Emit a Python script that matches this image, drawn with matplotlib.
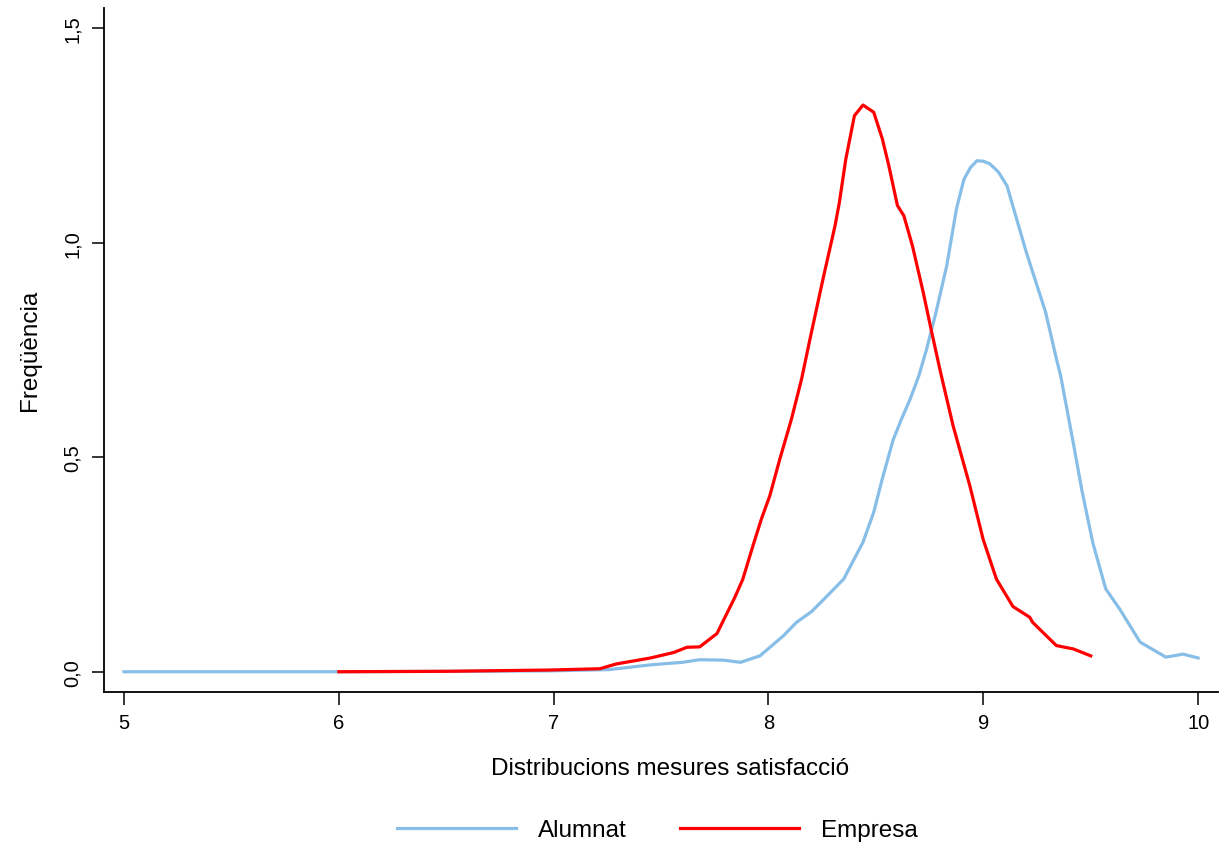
import matplotlib
matplotlib.use("Agg")
import matplotlib.pyplot as plt

# ---------------------------------------------------------------------------
# Data (kernel density of satisfaction scores)

alumnat_x = [5.0, 5.5, 6.0, 6.5, 6.98, 7.26, 7.45, 7.60, 7.68, 7.79, 7.87, 7.96,
             8.07, 8.13, 8.20, 8.26, 8.35, 8.44, 8.49, 8.53, 8.58, 8.62, 8.66,
             8.70, 8.735, 8.78, 8.83, 8.875, 8.91, 8.94, 8.97, 9.00, 9.03, 9.07,
             9.11, 9.20, 9.29, 9.34, 9.36, 9.42, 9.46, 9.51, 9.57, 9.635, 9.73,
             9.85, 9.93, 10.0]
alumnat_y = [0.0, 0.0, 0.0, 0.001, 0.002, 0.005, 0.016, 0.022, 0.028, 0.027, 0.022,
             0.037, 0.084, 0.115, 0.140, 0.170, 0.216, 0.302, 0.372, 0.450, 0.540,
             0.590, 0.636, 0.690, 0.750, 0.838, 0.947, 1.079, 1.148, 1.175, 1.191,
             1.190, 1.184, 1.165, 1.133, 0.978, 0.838, 0.730, 0.690, 0.530, 0.420,
             0.300, 0.193, 0.146, 0.069, 0.034, 0.041, 0.032]

empresa_x = [6.0, 6.5, 6.98, 7.215, 7.29, 7.45, 7.56, 7.62, 7.68, 7.76, 7.843, 7.88,
             7.928, 7.967, 8.006, 8.053, 8.107, 8.154, 8.193, 8.254, 8.31, 8.33,
             8.36, 8.40, 8.44, 8.49, 8.53, 8.56, 8.60, 8.63, 8.67, 8.72, 8.76, 8.80,
             8.859, 8.937, 8.999, 9.061, 9.138, 9.216, 9.23, 9.34, 9.42, 9.50]
empresa_y = [0.0, 0.001, 0.004, 0.007, 0.018, 0.032, 0.045, 0.057, 0.058, 0.089,
             0.173, 0.215, 0.294, 0.356, 0.410, 0.496, 0.589, 0.682, 0.775, 0.916,
             1.040, 1.094, 1.195, 1.296, 1.321, 1.304, 1.242, 1.180, 1.087, 1.063,
             0.993, 0.885, 0.791, 0.700, 0.574, 0.434, 0.309, 0.216, 0.152, 0.127,
             0.115, 0.061, 0.053, 0.037]

x_ticks = [5, 6, 7, 8, 9, 10]
y_ticks = [0.0, 0.5, 1.0, 1.5]
y_tick_labels = ["0,0", "0,5", "1,0", "1,5"]

# ---------------------------------------------------------------------------
# Figure

plt.rcParams['font.family'] = ['Liberation Sans', 'DejaVu Sans']

fig = plt.figure(figsize=(12.25, 8.45), dpi=100)
ax = fig.add_axes([0.0851, 0.1802, 0.9091, 0.8091])

ax.plot(alumnat_x, alumnat_y, color='#87BEE8', lw=2.3, label='Alumnat',
        solid_joinstyle='round')
ax.plot(empresa_x, empresa_y, color='#FF0000', lw=2.3, label='Empresa',
        solid_joinstyle='round')

ax.set_xlim(4.908, 10.092)
ax.set_ylim(-0.0466, 1.547)

ax.spines['top'].set_visible(False)
ax.spines['right'].set_visible(False)
for s in ['left', 'bottom']:
    ax.spines[s].set_linewidth(1.3)

ax.set_xticks(x_ticks)
ax.set_yticks(y_ticks)
ax.set_yticklabels(y_tick_labels, rotation=90, va='center')
ax.tick_params(axis='both', length=9, width=1.1, labelsize=14.5)
ax.tick_params(axis='x', pad=6)
ax.tick_params(axis='y', pad=7)

ax.set_xlabel('Distribucions mesures satisfacció', fontsize=17.5)
ax.xaxis.set_label_coords(0.508, -0.096)
ax.set_ylabel('Freqüència', fontsize=17.5)
ax.yaxis.set_label_coords(-0.0568, 0.501)

fig.legend(loc='center', bbox_to_anchor=(657 / 1225, 1 - 831 / 845), ncol=2,
           frameon=False, fontsize=17.5, handlelength=4.9, handletextpad=0.9,
           columnspacing=2.2)

fig.savefig('out.png', dpi=100, facecolor='white')
